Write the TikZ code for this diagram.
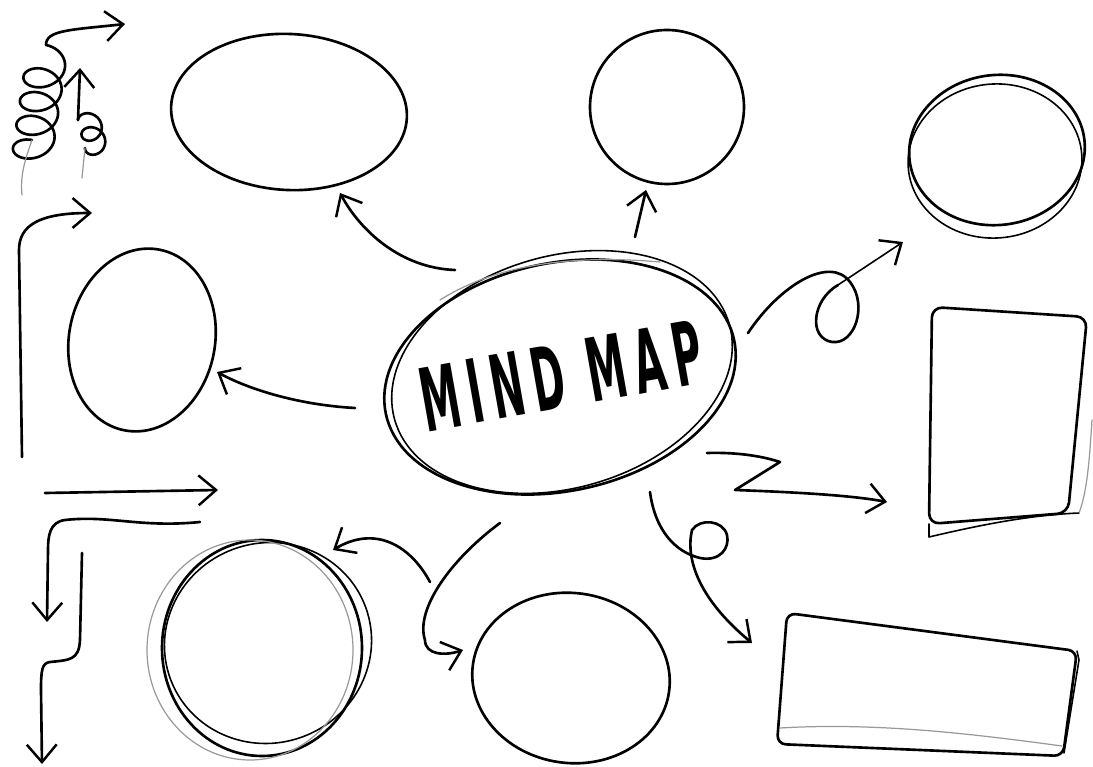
\documentclass[tikz,border=0pt]{standalone}
\usepackage{fontspec}
\setmainfont{DejaVu Sans}
\newfontfamily\mapfont{DejaVu Sans}[FakeStretch=0.45, LetterSpace=10]
\usetikzlibrary{arrows.meta}
\begin{document}
\begin{tikzpicture}[x=0.02cm, y=-0.02cm, line join=round, line cap=round,
    sketch/.style={line width=1.5pt},
    thinsketch/.style={line width=0.9pt},
    faint/.style={line width=0.7pt, black!40},
    barb/.style={-{Straight Barb[length=10pt,width=17pt,line width=1.4pt]}}]
  \useasboundingbox (0,0) rectangle (1093,767);
  % arrow ends
  \coordinate (sTop) at (455,270);  \coordinate (tTop) at (340,193);
  \coordinate (sUp) at (635,237);   \coordinate (tUp) at (646,190);
  \coordinate (sLoop) at (748,333); \coordinate (tLoop) at (903,242);
  \coordinate (sZig) at (707,453);  \coordinate (tZig) at (887,502);
  \coordinate (sCurl) at (650,492); \coordinate (tCurl) at (752,643);
  \coordinate (sHook) at (500,523); \coordinate (tHook) at (463,650);
  \coordinate (sBack) at (430,582); \coordinate (tBack) at (333,550);
  \coordinate (sLeft) at (355,408); \coordinate (tLeft) at (217,372);
  \coordinate (sBrk) at (22,457);   \coordinate (tBrk) at (92,213);
  \coordinate (sHor) at (45,493);   \coordinate (tHor) at (218,490);
  \coordinate (sDn) at (200,522);   \coordinate (tDn) at (47,622);
  \coordinate (sStep) at (82,553);  \coordinate (tStep) at (42,764);
  \coordinate (sCoil) at (46,45);   \coordinate (tCoil) at (125,24);
  \coordinate (sSpr) at (78,120);   \coordinate (tSpr) at (80,68);

  % bubbles
  \draw[sketch, rotate around={-3:(289,112)}] (289,112) ellipse (118 and 78);
  \draw[sketch] (667,107) ellipse (77 and 77);
  \draw[sketch, rotate around={7:(997,150)}] (997,150) ellipse (88 and 75);
  \draw[thinsketch, rotate around={5:(995,161)}] (995,161) ellipse (87 and 77);
  \draw[sketch, rotate around={-11:(142,340)}] (142,340) ellipse (73 and 92);
  \draw[sketch] (262,648) ellipse (100 and 108);
  \draw[thinsketch, rotate around={20:(268,643)}] (268,643) ellipse (104 and 100);
  \draw[faint] (250,650) ellipse (103 and 110);
  \draw[sketch, rotate around={-8:(571,678)}] (571,678) ellipse (99 and 85);

  % sheets
  \draw[sketch, rounded corners=6pt] (932,307) -- (1087,317) -- (1068,513) -- (929,524) -- cycle;
  \draw[thinsketch] (929,524) -- (929,537) .. controls (980,525) and (1030,515) .. (1079,513);
  \draw[faint] (1079,513) .. controls (1088,490) and (1090,450) .. (1092,420);
  \draw[sketch, rounded corners=5pt] (787,613) -- (1077,651) -- (1063,756) -- (777,744) -- cycle;
  \draw[thinsketch] (1077,651) -- (1079,660) -- (1064,753);
  \draw[faint] (780,728) .. controls (880,722) and (980,735) .. (1062,746);

  % centre
  \draw[sketch, rotate around={12:(560,377)}] (560,377) ellipse (178 and 114);
  \draw[thinsketch, rotate around={16:(562,372)}] (562,372) ellipse (174 and 116);
  \draw[faint] (440,300) .. controls (500,262) and (580,255) .. (660,262);
  \node[rotate=10, font=\mapfont\bfseries\fontsize{50}{50}\selectfont] (mm) at (561,376) {MIND MAP};

  % arrows
  \draw[sketch, barb] (sTop) .. controls (400,268) and (360,230) .. (tTop);
  \draw[sketch, barb] (sUp) -- (tUp);
  \draw[sketch] (sLoop) .. controls (780,285) and (830,255) .. (850,282)
    .. controls (868,305) and (855,345) .. (832,342)
    .. controls (808,338) and (812,300) .. (838,285);
  \draw[thinsketch, barb] (838,285) -- (tLoop);
  \draw[sketch, barb] (sZig) .. controls (740,452) and (765,457) .. (780,462) -- (735,490)
    .. controls (790,492) and (850,495) .. (tZig);
  \draw[sketch, barb] (sCurl) .. controls (655,530) and (675,552) .. (700,558)
    .. controls (720,562) and (730,548) .. (727,535)
    .. controls (723,520) and (700,518) .. (692,530)
    .. controls (685,560) and (700,600) .. (tCurl);
  \draw[sketch, barb] (sHook) .. controls (450,560) and (415,610) .. (425,640)
    .. controls (425,655) and (445,656) .. (tHook);
  \draw[sketch, barb] (sBack) .. controls (410,545) and (375,525) .. (tBack);
  \draw[sketch, barb] (sLeft) .. controls (300,405) and (250,390) .. (tLeft);
  \draw[sketch, barb] (sBrk) -- (19,250) .. controls (19,225) and (40,213) .. (tBrk);
  \draw[sketch, barb] (sHor) -- (tHor);
  \draw[sketch, barb] (sDn) .. controls (140,528) and (110,515) .. (65,520)
    .. controls (50,522) and (48,535) .. (48,550) -- (tDn);
  \draw[sketch, barb] (sStep) -- (80,640) .. controls (79,660) and (70,660) .. (50,662)
    .. controls (42,663) and (41,670) .. (41,690) -- (tStep);

  % coils
  \draw[sketch] plot[domain=0:1440, samples=160, smooth]
    ({46-14*(\x/1440)+20*sin(\x)}, {60+95*(\x/1440)-15*cos(\x)});
  \draw[faint] (32,140) .. controls (25,160) and (20,175) .. (22,195);
  \draw[sketch, barb] (sCoil) .. controls (46,30) and (70,30) .. (tCoil);
  \draw[sketch] plot[domain=0:720, samples=90, smooth]
    ({89+7*(\x/720)-11*cos(\x)}, {120+28*(\x/720)-10*sin(\x)});
  \draw[faint] (85,148) -- (82,178);
  \draw[sketch, barb] (sSpr) -- (tSpr);
\end{tikzpicture}
\end{document}
